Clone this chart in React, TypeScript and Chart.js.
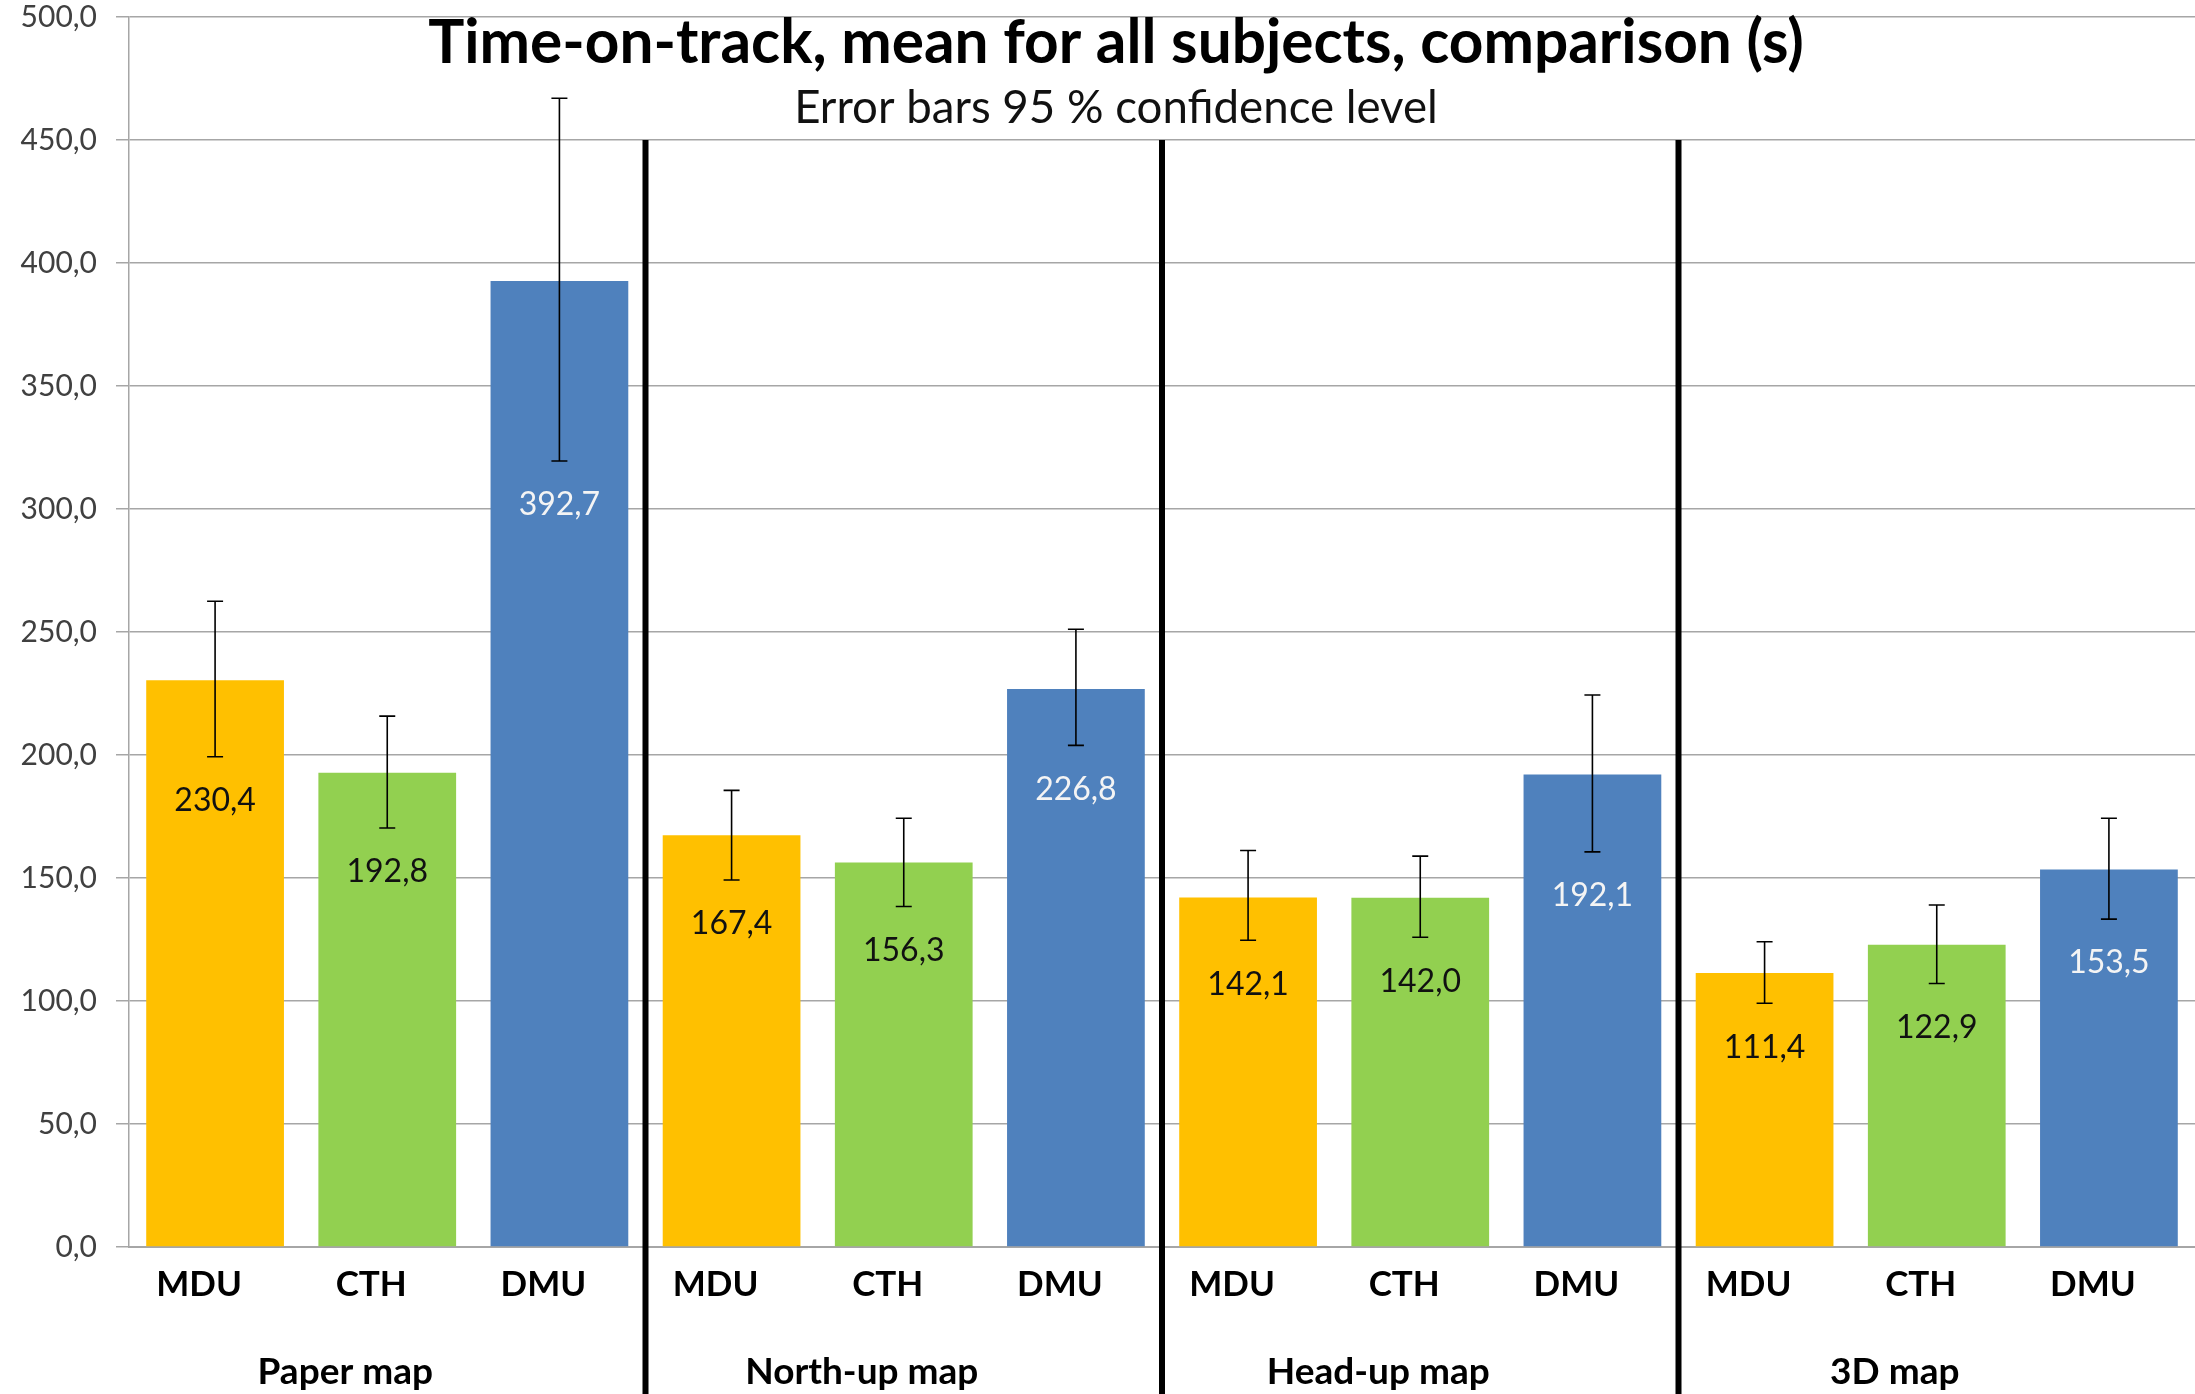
import React, { useEffect, useRef } from "react";
import { Chart, registerables } from "chart.js";

Chart.register(...registerables);

const groups = ["Paper map", "North-up map", "Head-up map", "3D map"];
const subjects = ["MDU", "CTH", "DMU"];
const meanTime = [230.4, 192.8, 392.7, 167.4, 156.3, 226.8, 142.1, 142.0, 192.1, 111.4, 122.9, 153.5];
const ciLow = [199.3, 170.3, 319.5, 149.2, 138.4, 203.9, 124.7, 125.9, 160.6, 99.1, 107.1, 133.3];
const ciHigh = [262.5, 215.8, 467.0, 185.6, 174.3, 251.1, 161.2, 158.9, 224.4, 124.1, 139.0, 174.3];
const subjectColors = ["#FFC000", "#92D050", "#4F81BD"];
const labelColors = ["#111111", "#111111", "#F4F4F4"];
const title = "Time-on-track, mean for all subjects, comparison (s)";
const subtitle = "Error bars 95 % confidence level";
const yMin = 0;
const yMax = 500;
const yStep = 50;

const FONT = "Lato, 'Open Sans', sans-serif";
const fmt = (v: number) => v.toFixed(1).replace(".", ",");

function fitFont(ctx: CanvasRenderingContext2D, text: string, weight: string, target: number) {
  ctx.font = `${weight} 100px ${FONT}`;
  const w = ctx.measureText(text).width;
  return (100 * target) / w;
}

export default function App() {
  const ref = useRef<HTMLCanvasElement | null>(null);

  useEffect(() => {
    document.body.style.margin = "0";
    const canvas = ref.current!;
    const labels = groups.flatMap(() => subjects);
    const colors = groups.flatMap(() => subjectColors);
    const txtColors = groups.flatMap(() => labelColors);

    const overlay = {
      id: "overlay",
      afterDatasetsDraw(chart: any) {
        const ctx = chart.ctx as CanvasRenderingContext2D;
        const y = chart.scales.y;
        const meta = chart.getDatasetMeta(0);
        ctx.save();
        // error bars
        ctx.strokeStyle = "#000";
        ctx.lineWidth = 1.6;
        meta.data.forEach((bar: any, i: number) => {
          const x = bar.x;
          const yh = y.getPixelForValue(ciHigh[i]);
          const yl = y.getPixelForValue(ciLow[i]);
          ctx.beginPath();
          ctx.moveTo(x, yh);
          ctx.lineTo(x, yl);
          ctx.moveTo(x - 8, yh);
          ctx.lineTo(x + 8, yh);
          ctx.moveTo(x - 8, yl);
          ctx.lineTo(x + 8, yl);
          ctx.stroke();
        });
        // data labels
        ctx.font = `400 32px ${FONT}`;
        ctx.textAlign = "center";
        ctx.textBaseline = "middle";
        meta.data.forEach((bar: any, i: number) => {
          ctx.fillStyle = txtColors[i];
          ctx.fillText(fmt(meanTime[i]), bar.x, y.getPixelForValue(ciLow[i]) + 44);
        });
        ctx.restore();
      },
      afterDraw(chart: any) {
        const ctx = chart.ctx as CanvasRenderingContext2D;
        const x = chart.scales.x;
        const y = chart.scales.y;
        ctx.save();
        // separators
        ctx.strokeStyle = "#000";
        ctx.lineWidth = 6;
        for (let g = 1; g < groups.length; g++) {
          const i = g * subjects.length;
          const sx = (x.getPixelForValue(i - 1) + x.getPixelForValue(i)) / 2;
          ctx.beginPath();
          ctx.moveTo(sx, y.getPixelForValue(450));
          ctx.lineTo(sx, chart.height);
          ctx.stroke();
        }
        // group labels
        ctx.fillStyle = "#000";
        ctx.font = `700 37px ${FONT}`;
        ctx.textAlign = "center";
        ctx.textBaseline = "middle";
        groups.forEach((g, gi) => {
          const mid = x.getPixelForValue(gi * subjects.length + 1);
          ctx.fillText(g, mid - 42, 1372);
        });
        // title
        const ts = fitFont(ctx, title, "700", 1376);
        ctx.font = `700 ${ts}px ${FONT}`;
        ctx.fillText(title, 1116, 44);
        const ss = fitFont(ctx, subtitle, "400", 644);
        ctx.font = `400 ${ss}px ${FONT}`;
        ctx.fillStyle = "#111";
        ctx.fillText(subtitle, 1116, 108);
        ctx.restore();
      },
    };

    const chart = new Chart(canvas, {
      type: "bar",
      data: {
        labels,
        datasets: [
          {
            data: meanTime,
            backgroundColor: colors,
            borderWidth: 0,
            categoryPercentage: 1,
            barPercentage: 0.8,
          },
        ],
      },
      options: {
        responsive: false,
        animation: false,
        layout: { padding: { top: 17, right: 0, left: 0, bottom: 0 } },
        plugins: { legend: { display: false }, tooltip: { enabled: false }, title: { display: false } },
        scales: {
          x: {
            grid: { display: false, drawTicks: false },
            border: { display: true, color: "#A6A6A6", width: 2 },
            ticks: {
              color: "#000",
              font: { family: FONT, size: 35, weight: "bold" },
              padding: 17,
              labelOffset: -16,
              maxRotation: 0,
              autoSkip: false,
            },
            afterFit(scale: any) {
              scale.height = 147;
              scale.paddingLeft = 0;
              scale.paddingRight = 0;
            },
          },
          y: {
            min: yMin,
            max: yMax,
            grid: { color: "#A6A6A6", lineWidth: 1.5, tickLength: 13, drawTicks: true },
            border: { display: true, color: "#A6A6A6", width: 1.5 },
            ticks: {
              stepSize: yStep,
              color: "#404040",
              font: { family: FONT, size: 30 },
              padding: 19,
              callback: (v: any) => fmt(Number(v)),
            },
            afterFit(scale: any) {
              scale.width = 129;
              scale.paddingTop = 0;
              scale.paddingBottom = 0;
            },
          },
        },
      },
      plugins: [overlay],
    });
    return () => chart.destroy();
  }, []);

  return (
    <div style={{ position: "absolute", left: 0, top: 0, width: 2195, height: 1394, background: "#fff" }}>
      <canvas ref={ref} width={2195} height={1394} style={{ display: "block" }} />
    </div>
  );
}
